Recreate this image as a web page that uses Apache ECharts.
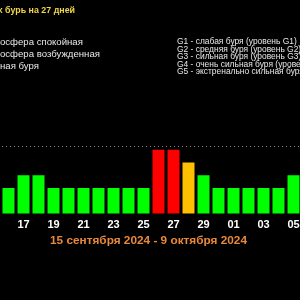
<!DOCTYPE html>
<html><head><meta charset="utf-8">
<style>html,body{margin:0;padding:0;background:#000;}#c{width:300px;height:300px;}</style>
<script src="https://cdn.jsdelivr.net/npm/echarts@6/dist/echarts.min.js"></script>
</head><body><div id="c"></div>
<script>
const days = ['15','16','17','18','19','20','21','22','23','24','25','26','27','28','29','30','01','02','03','04','05','06','07','08','09'];
const kp   = [2,2,3,3,2,2,2,2,2,2,2,5,5,4,3,2,2,2,2,2,3,2,2,2,2];
const titleText = 'Прогноз магнитных бурь на 27 дней';
const legendLeft = ['Магнитосфера спокойная','Магнитосфера возбужденная','Магнитная буря'];
const legendRight = ['G1 - слабая буря (уровень G1)','G2 - средняя буря (уровень G2)','G3 - сильная буря (уровень G3)','G4 - очень сильная буря (уровень G4)','G5 - экстренально сильная буря (уровень G5)'];
const rangeText = '15 сентября 2024 - 9 октября 2024';

function colorFor(v){ return v>=5 ? '#ff0000' : (v>=4 ? '#ffc000' : '#00ff00'); }

const FONT = 'Liberation Sans';
const cv = document.createElement('canvas').getContext('2d');
function fit(sample, weight, target){
  cv.font = weight + ' 100px "' + FONT + '"';
  return 100 * target / cv.measureText(sample).width;
}
function mw(s, weight, size){ cv.font = weight + ' ' + size + 'px "' + FONT + '"'; return cv.measureText(s).width; }

const titleSize = fit('бурь на 27 дней', 'bold', 70);
const leftSize = fit('осфера спокойная', 'normal', 83);
const prefixW = mw('Магнит', 'normal', leftSize);
const rightSize = fit('G1 - слабая буря (уровень G1)', 'normal', 120);
const rangeSize = fit(rangeText, 'bold', 197);

const chart = echarts.init(document.getElementById('c'), null, {renderer:'canvas'});
const graphics = [
  {type:'text', x:75, y:11, style:{text:titleText, fill:'#f0d648', font:'bold '+titleSize+'px "'+FONT+'"', align:'right', verticalAlign:'middle'}}
];
const leftY = [42,54,66];
legendLeft.forEach((t,i)=>graphics.push({type:'text', x:-prefixW, y:leftY[i], style:{text:t, fill:'#e8e8e8', font:leftSize+'px "'+FONT+'"', align:'left', verticalAlign:'middle'}}));
const rightY = [42,49.5,57,64.5,72];
legendRight.forEach((t,i)=>graphics.push({type:'text', x:177, y:rightY[i], style:{text:t, fill:'#e8e8e8', font:rightSize+'px "'+FONT+'"', align:'left', verticalAlign:'middle'}}));
graphics.push({type:'text', x:148.5, y:241, style:{text:rangeText, fill:'#e8893a', font:'bold '+rangeSize+'px "'+FONT+'"', align:'center', verticalAlign:'middle'}});

chart.setOption({
  backgroundColor:'#000',
  animation:false,
  grid:{left:-14, top:98.75, width:375, height:114.75, containLabel:false, outerBoundsMode:'none'},
  xAxis:{type:'category', data:days, axisLine:{show:false}, axisTick:{show:false},
    axisLabel:{interval:1, color:'#ffffff', fontWeight:'bold', fontSize:11, fontFamily:FONT, margin:6}},
  yAxis:{type:'value', min:0, max:9, interval:1, axisLine:{show:false}, axisTick:{show:false}, axisLabel:{show:false}, splitLine:{show:false}},
  series:[{type:'bar', barCategoryGap:'20%',
    data:kp.map(v=>({value:v, itemStyle:{color:colorFor(v)}})),
    markLine:{silent:true, symbol:'none', label:{show:false}, lineStyle:{color:'#888', type:[1,3], width:1},
      data:[{yAxis:5.3}]}
  }],
  graphic:graphics
});
</script></body></html>
